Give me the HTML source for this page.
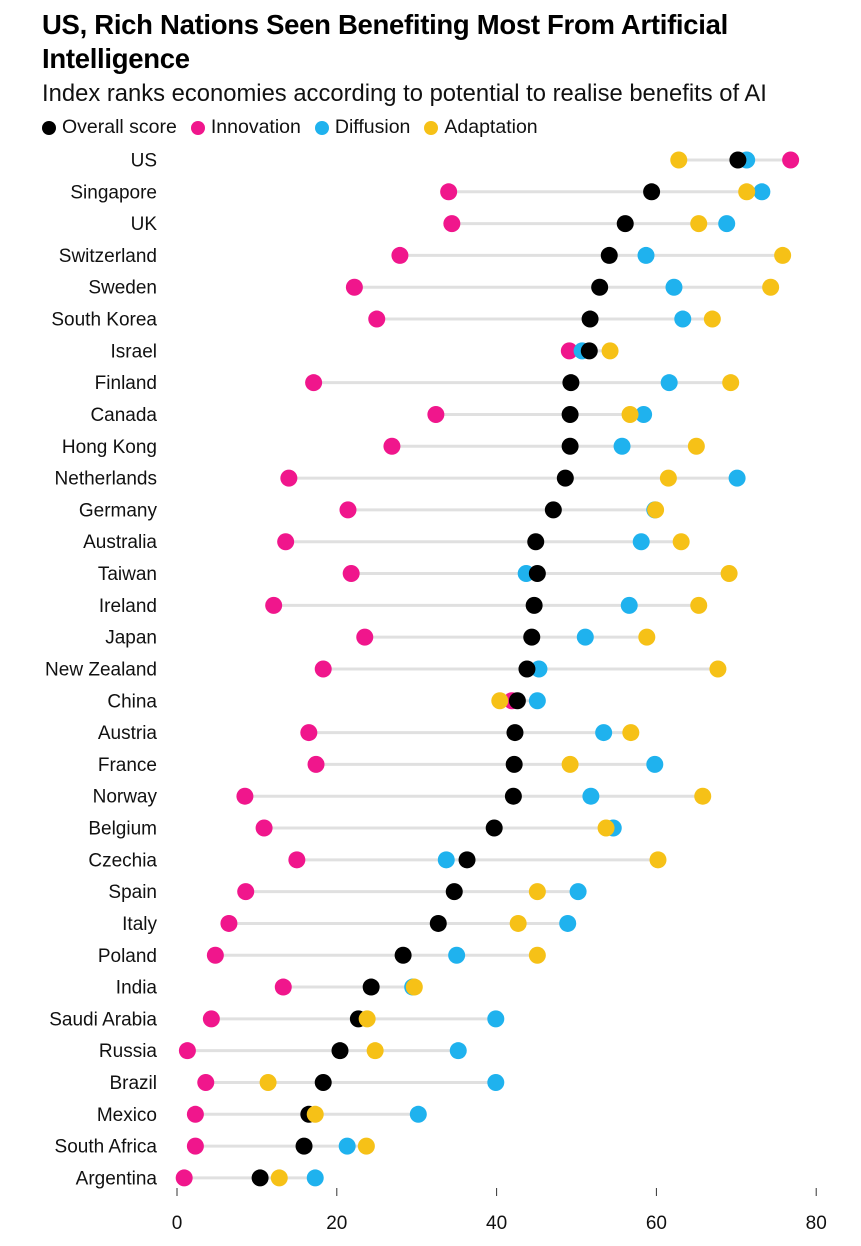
<!DOCTYPE html>
<html><head><meta charset="utf-8">
<style>
body{margin:0;background:#fff;font-family:"Liberation Sans",Arial,sans-serif;}
#wrap{position:relative;width:861px;height:1246px;overflow:hidden;}
h1{position:absolute;left:42px;top:8px;margin:0;font-size:27.5px;line-height:34px;font-weight:bold;color:#000;width:760px;letter-spacing:-0.3px}
#sub{position:absolute;left:42px;top:80px;font-size:23.8px;color:#111;white-space:nowrap}
#legend{position:absolute;left:42px;top:116px;font-size:19.5px;color:#111;display:flex;gap:14px}
.li{display:flex;align-items:center;gap:6px}
.dot{width:14px;height:14px;border-radius:50%;display:inline-block}
svg{position:absolute;left:0;top:0}
</style></head><body>
<div id="wrap">
<h1>US, Rich Nations Seen Benefiting Most From Artificial Intelligence</h1>
<div id="sub">Index ranks economies according to potential to realise benefits of AI</div>
<div id="legend">
<span class="li"><span class="dot" style="background:#000"></span>Overall score</span>
<span class="li"><span class="dot" style="background:#f0168c"></span>Innovation</span>
<span class="li"><span class="dot" style="background:#1fb2ee"></span>Diffusion</span>
<span class="li"><span class="dot" style="background:#f6c117"></span>Adaptation</span>
</div>
<svg id="chart" width="861" height="1246"></svg>
</div>
<script>
const countries=["US","Singapore","UK","Switzerland","Sweden","South Korea","Israel","Finland","Canada","Hong Kong","Netherlands","Germany","Australia","Taiwan","Ireland","Japan","New Zealand","China","Austria","France","Norway","Belgium","Czechia","Spain","Italy","Poland","India","Saudi Arabia","Russia","Brazil","Mexico","South Africa","Argentina"];
const overall=[70.2,59.4,56.1,54.1,52.9,51.7,51.6,49.3,49.2,49.2,48.6,47.1,44.9,45.1,44.7,44.4,43.8,42.6,42.3,42.2,42.1,39.7,36.3,34.7,32.7,28.3,24.3,22.7,20.4,18.3,16.5,15.9,10.4];
const innovation=[76.8,34.0,34.4,27.9,22.2,25.0,49.1,17.1,32.4,26.9,14.0,21.4,13.6,21.8,12.1,23.5,18.3,41.9,16.5,17.4,8.5,10.9,15.0,8.6,6.5,4.8,13.3,4.3,1.3,3.6,2.3,2.3,0.9];
const diffusion=[71.3,73.2,68.8,58.7,62.2,63.3,50.7,61.6,58.4,55.7,70.1,59.8,58.1,43.7,56.6,51.1,45.3,45.1,53.4,59.8,51.8,54.6,33.7,50.2,48.9,35.0,29.5,39.9,35.2,39.9,30.2,21.3,17.3];
const adaptation=[62.8,71.3,65.3,75.8,74.3,67.0,54.2,69.3,56.7,65.0,61.5,59.9,63.1,69.1,65.3,58.8,67.7,40.4,56.8,49.2,65.8,53.7,60.2,45.1,42.7,45.1,29.7,23.8,24.8,11.4,17.3,23.7,12.8];
const ticks=[0,20,40,60,80];
const svg=document.getElementById('chart');
const NS='http://www.w3.org/2000/svg';
const x=v=>177+v*7.99;
const y=i=>160+i*31.81;
function mk(t,a){const e=document.createElementNS(NS,t);for(const k in a)e.setAttribute(k,a[k]);svg.appendChild(e);return e;}
countries.forEach((c,i)=>{
  const vals=[overall[i],innovation[i],diffusion[i],adaptation[i]];
  const lo=Math.min(...vals),hi=Math.max(...vals);
  const ln=mk('line',{x1:x(lo),x2:x(hi),y1:y(i),y2:y(i),stroke:'#e0e0e0','stroke-width':3});
  
  
  const t=mk('text',{x:157,y:y(i)+6.5,'text-anchor':'end','font-size':19,fill:'#111'});
  t.textContent=c;
  
  
  const series=[[innovation,'#f0168c','innovation'],[diffusion,'#1fb2ee','diffusion'],[overall,'#000','overall'],[adaptation,'#f6c117','adaptation']];
  series.forEach(s=>{
    const d=mk('circle',{cx:x(s[0][i]),cy:y(i),r:8.5,fill:s[1]});
    
    
  });
});
ticks.forEach(v=>{
  const l=mk('line',{x1:x(v),x2:x(v),y1:1188,y2:1196,stroke:'#333','stroke-width':1});
  
  
  const t=mk('text',{x:x(v),y:1229,'text-anchor':'middle','font-size':19,fill:'#111'});
  t.textContent=v;
  
  
});
</script>
</body></html>
